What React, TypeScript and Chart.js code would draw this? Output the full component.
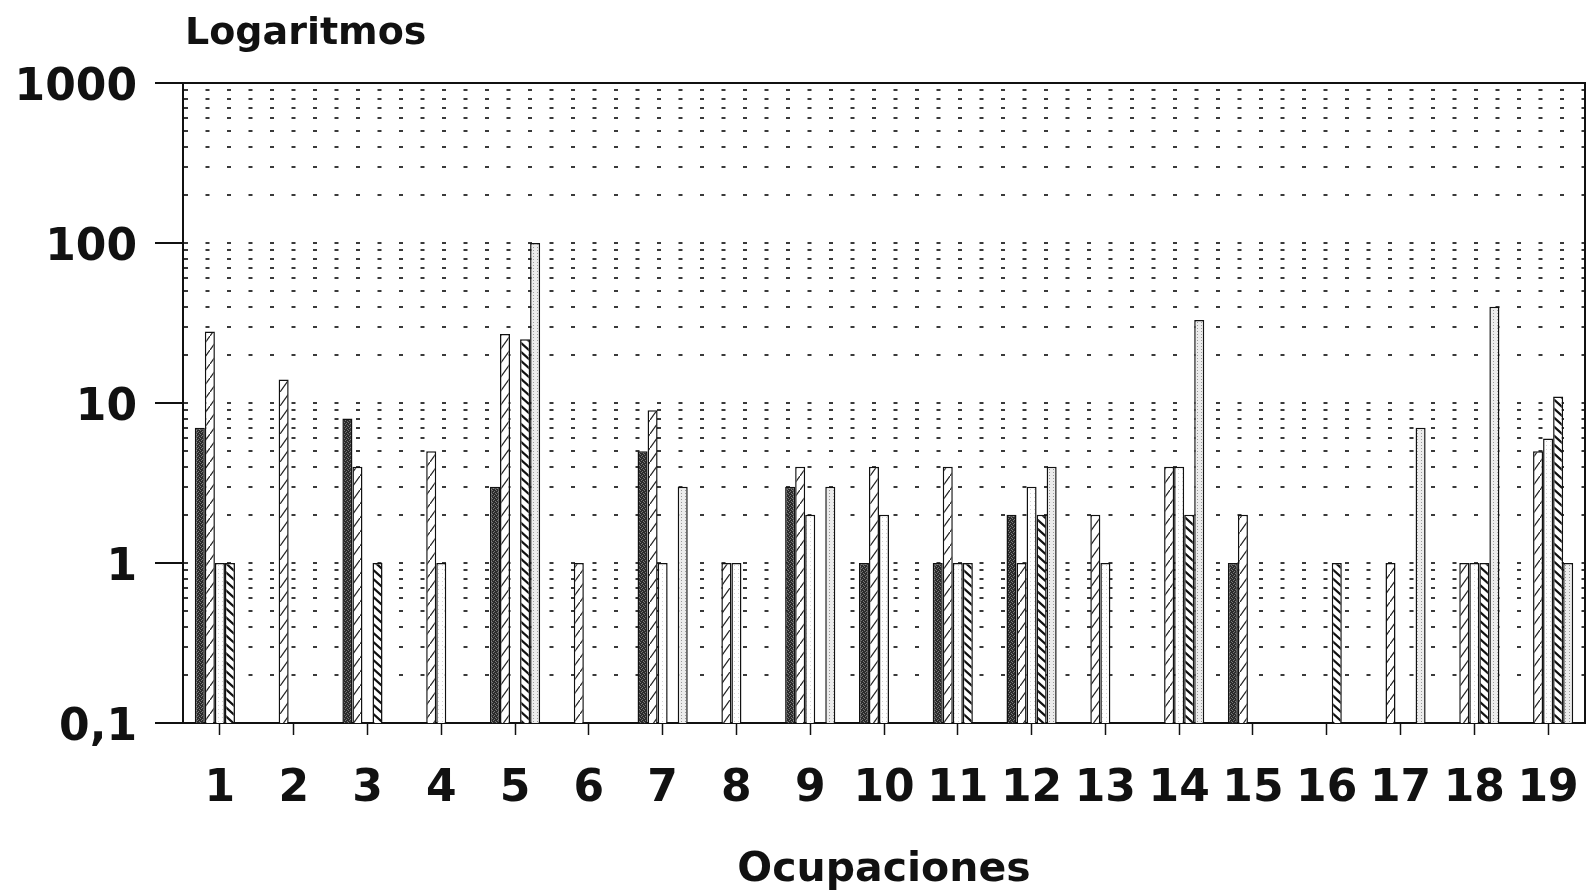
import React, { useEffect, useRef } from 'react';
import { Chart, registerables } from 'chart.js';

Chart.register(...registerables);

const categories = ['1', '2', '3', '4', '5', '6', '7', '8', '9', '10', '11', '12', '13', '14', '15', '16', '17', '18', '19'];

const serieOscura = [7, null, 8, null, 3, null, 5, null, 3, 1, 1, 2, null, null, 1, null, null, null, null];
const serieDiagonal = [28, 14, 4, 5, 27, 1, 9, 1, 4, 4, 4, 1, 2, 4, 2, null, 1, 1, 5];
const serieBlanca = [1, null, null, 1, null, null, 1, 1, 2, 2, 1, 3, 1, 4, null, null, null, 1, 6];
const serieRayada = [1, null, 1, null, 25, null, null, null, null, null, 1, 2, null, 2, null, 1, null, 1, 11];
const seriePunteada = [null, null, null, null, 100, null, 3, null, 3, null, null, 4, null, 33, null, null, 7, 40, 1];

const yDecades = [0.1, 1, 10, 100, 1000];
const yDecadeLabels = ['0,1', '1', '10', '100', '1000'];
const yMinorSteps = [2, 3, 4, 5, 6, 7, 8, 9];

const yAxisTitle = 'Logaritmos';
const xAxisTitle = 'Ocupaciones';

const FONT = '"DejaVu Sans", "Liberation Sans", Arial, sans-serif';
const INK = '#111';

function isDecade(v: number) {
  return yDecades.some((d) => Math.abs(d - v) / d < 1e-6);
}

function makePattern(ctx: CanvasRenderingContext2D, w: number, h: number, draw: (g: CanvasRenderingContext2D) => void) {
  const c = document.createElement('canvas');
  c.width = w;
  c.height = h;
  const g = c.getContext('2d') as CanvasRenderingContext2D;
  draw(g);
  return ctx.createPattern(c, 'repeat') as CanvasPattern;
}

export default function App() {
  const ref = useRef<HTMLCanvasElement | null>(null);

  useEffect(() => {
    document.body.style.margin = '0';
    const canvas = ref.current;
    if (!canvas) return;
    const ctx = canvas.getContext('2d') as CanvasRenderingContext2D;

    const dark = makePattern(ctx, 4, 4, (g) => {
      g.fillStyle = '#2b2b2b';
      g.fillRect(0, 0, 4, 4);
      g.fillStyle = '#777';
      g.fillRect(1, 0, 1, 1);
      g.fillRect(3, 1, 1, 1);
      g.fillRect(0, 2, 1, 1);
      g.fillRect(2, 3, 1, 1);
    });
    const diag = makePattern(ctx, 10, 14, (g) => {
      g.fillStyle = '#fff';
      g.fillRect(0, 0, 10, 14);
      g.strokeStyle = '#222';
      g.lineWidth = 1.3;
      g.beginPath();
      g.moveTo(0, 14);
      g.lineTo(10, 0);
      g.stroke();
    });
    const white = makePattern(ctx, 4, 4, (g) => {
      g.fillStyle = '#fff';
      g.fillRect(0, 0, 4, 4);
      g.fillStyle = '#d4d4d4';
      g.fillRect(2, 1, 1, 1);
    });
    const dense = makePattern(ctx, 10, 9, (g) => {
      g.fillStyle = '#fff';
      g.fillRect(0, 0, 10, 9);
      g.strokeStyle = '#111';
      g.lineWidth = 2.2;
      g.beginPath();
      g.moveTo(-1, -0.9);
      g.lineTo(11, 9.9);
      g.moveTo(-1, 8.1);
      g.lineTo(1, 9.9);
      g.moveTo(9, -0.9);
      g.lineTo(11, 0.9);
      g.stroke();
    });
    const dotted = makePattern(ctx, 4, 3, (g) => {
      g.fillStyle = '#ececec';
      g.fillRect(0, 0, 4, 3);
      g.fillStyle = '#9a9a9a';
      g.fillRect(1, 1, 1, 1);
    });

    const yTickValues: number[] = [];
    yDecades.forEach((d, i) => {
      yTickValues.push(d);
      if (i < yDecades.length - 1) yMinorSteps.forEach((k) => yTickValues.push(d * k));
    });

    const framePlugin = {
      id: 'frameAndTitle',
      afterDraw(chart: any) {
        const { ctx: c, chartArea } = chart;
        const { left, right, top, bottom } = chartArea;
        c.save();
        c.strokeStyle = INK;
        c.lineWidth = 2;
        c.beginPath();
        c.moveTo(left, top);
        c.lineTo(right, top);
        c.lineTo(right, bottom);
        c.stroke();
        c.fillStyle = INK;
        c.font = `bold 38px ${FONT}`;
        c.textAlign = 'left';
        c.textBaseline = 'alphabetic';
        c.fillText(yAxisTitle, 185, 44);
        c.restore();
      },
    };

    const mk = (label: string, data: (number | null)[], bg: CanvasPattern) => ({
      label,
      data,
      backgroundColor: bg,
      borderColor: INK,
      borderWidth: 1.5,
      barPercentage: 1,
      categoryPercentage: 0.68,
    });

    const chart = new Chart(canvas, {
      type: 'bar',
      data: {
        labels: categories,
        datasets: [
          mk('Serie 1', serieOscura, dark),
          mk('Serie 2', serieDiagonal, diag),
          mk('Serie 3', serieBlanca, white),
          mk('Serie 4', serieRayada, dense),
          mk('Serie 5', seriePunteada, dotted),
        ],
      },
      options: {
        responsive: false,
        animation: false,
        devicePixelRatio: 1,
        layout: { padding: { top: 83, right: 1, left: 0, bottom: 0 } },
        plugins: {
          legend: { display: false },
          tooltip: { enabled: false },
          title: { display: false },
        },
        scales: {
          x: {
            type: 'category',
            offset: true,
            afterFit: (s: any) => {
              s.height = 169;
              s.paddingLeft = 0;
              s.paddingRight = 0;
            },
            grid: {
              offset: false,
              drawOnChartArea: false,
              drawTicks: true,
              tickLength: 12,
              tickWidth: 1.5,
              tickColor: INK,
            },
            border: { display: true, color: INK, width: 2 },
            ticks: {
              autoSkip: false,
              maxRotation: 0,
              minRotation: 0,
              padding: 28,
              color: INK,
              font: { family: FONT, size: 44, weight: 'bold' },
            },
            title: {
              display: true,
              text: xAxisTitle,
              color: INK,
              font: { family: FONT, size: 41, weight: 'bold' },
              padding: { top: 0, bottom: -3 },
            },
          },
          y: {
            type: 'logarithmic',
            min: 0.1,
            max: 1000,
            afterFit: (s: any) => {
              s.width = 183;
              s.paddingTop = 0;
              s.paddingBottom = 0;
            },
            afterBuildTicks: (s: any) => {
              s.ticks = yTickValues.map((v) => ({ value: v, major: isDecade(v) }));
            },
            grid: {
              drawOnChartArea: true,
              color: '#3a3a3a',
              lineWidth: 2,
              drawTicks: true,
              tickLength: 28,
              tickWidth: 2,
              tickColor: (c: any) => (c.tick && isDecade(c.tick.value) ? INK : 'rgba(0,0,0,0)'),
            },
            border: { display: true, color: INK, width: 2, dash: [4, 17.5] },
            ticks: {
              autoSkip: false,
              padding: 18,
              labelOffset: 6,
              color: INK,
              font: { family: FONT, size: 44, weight: 'bold' },
              callback: (value: any) => {
                const v = Number(value);
                const i = yDecades.findIndex((d) => Math.abs(d - v) / d < 1e-6);
                return i >= 0 ? yDecadeLabels[i] : '';
              },
            },
          },
        },
      },
      plugins: [framePlugin],
    } as any);

    return () => chart.destroy();
  }, []);

  return (
    <div style={{ width: 1586, height: 892, background: '#fff' }}>
      <canvas ref={ref} width={1586} height={892} style={{ display: 'block', width: 1586, height: 892 }} />
    </div>
  );
}
